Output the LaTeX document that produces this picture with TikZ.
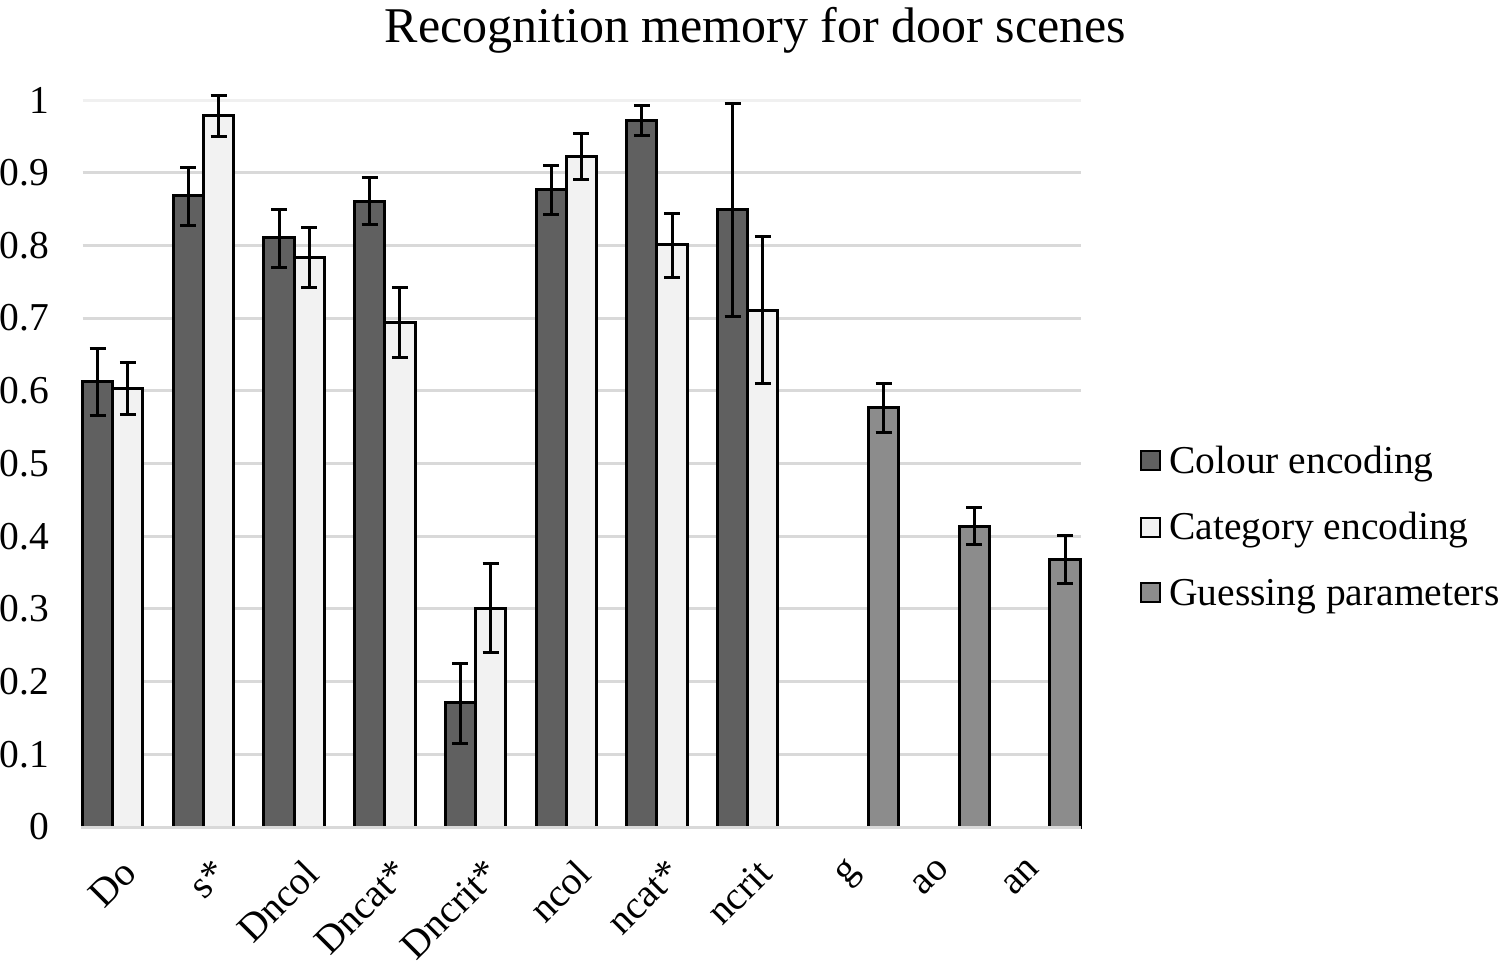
\documentclass[tikz,border=0pt]{standalone}
\usepackage{fontspec}
\setmainfont{Liberation Serif}
\definecolor{darkbar}{RGB}{96,96,96}
\definecolor{lightbar}{RGB}{242,242,242}
\definecolor{guessbar}{RGB}{140,140,140}
\definecolor{gridgray}{RGB}{217,217,217}
\definecolor{topgray}{RGB}{240,240,240}
\tikzset{
  lbl/.style={font=\fontsize{39.5}{46}\selectfont, inner sep=0pt},
  legbox/.style={draw=black, line width=2pt, minimum size=19pt, inner sep=0pt},
}
\begin{document}
\begin{tikzpicture}[x=1pt,y=-1pt]
		\useasboundingbox (0,0) rectangle (1498,962);
		% grid and tick labels
		\foreach \k/\t in {0/0,1/0.1,2/0.2,3/0.3,4/0.4,5/0.5,6/0.6,7/0.7,8/0.8,9/0.9,10/1} {
			\ifnum\k>0
				\ifnum\k<10
					\draw[gridgray, line width=3pt] (82.5,{827-72.7*\k}) -- (1081,{827-72.7*\k});
				\else
					\draw[topgray, line width=3pt] (82.5,{827-72.7*\k}) -- (1081,{827-72.7*\k});
				\fi
			\fi
			\node[lbl, anchor=east] (tick\k) at (49,{827-72.7*\k}) {\t};
		}
		% bars: category/slot/value/low/high/colour
		\foreach \i/\s/\v/\lo/\hi/\c in {
			0/0/.6125/.566/.658/darkbar, 0/1/.603/.568/.639/lightbar,
			1/0/.868/.828/.907/darkbar, 1/1/.979/.950/1.006/lightbar,
			2/0/.811/.770/.850/darkbar, 2/1/.784/.742/.825/lightbar,
			3/0/.861/.829/.893/darkbar, 3/1/.694/.646/.742/lightbar,
			4/0/.171/.1155/.225/darkbar, 4/1/.301/.240/.362/lightbar,
			5/0/.877/.843/.910/darkbar, 5/1/.922/.890/.954/lightbar,
			6/0/.972/.951/.993/darkbar, 6/1/.801/.756/.844/lightbar,
			7/0/.849/.702/.995/darkbar, 7/1/.711/.610/.812/lightbar,
			8/2/.577/.543/.610/guessbar, 9/2/.414/.389/.440/guessbar,
			10/2/.368/.335/.401/guessbar} {
			\pgfmathsetmacro{\xl}{82.5+90.7*\i+30.24*\s}
			\pgfmathsetmacro{\xm}{\xl+15.12}
			\draw[fill=\c, line width=3pt] (\xl,827) rectangle (\xl+30.24,{827-727*\v});
			\draw[line width=3pt] (\xm,{827-727*\lo}) -- (\xm,{827-727*\hi});
			\draw[line width=3pt] (\xm-8,{827-727*\lo}) -- (\xm+8,{827-727*\lo});
			\draw[line width=3pt] (\xm-8,{827-727*\hi}) -- (\xm+8,{827-727*\hi});
		}
		\draw[gridgray, line width=3pt] (81,827) -- (1081,827);
		% category labels
		\foreach \i/\t in {0/Do,1/s*,2/Dncol,3/Dncat*,4/Dncrit*,5/ncol,6/ncat*,7/ncrit,8/g,9/ao,10/an}
			\node[lbl, rotate=45, anchor=north east] (cat\i) at ({82.5+90.7*\i+38},857) {\t};
		% title
		\node[font=\fontsize{50}{60}\selectfont, anchor=base, inner sep=0pt] (title) at (755.5,42) {Recognition memory for door scenes};
		% legend
		\node[legbox, fill=darkbar] (keycol) at (1150.5,460.5) {};
		\node[legbox, fill=lightbar] (keycat) at (1150.5,527) {};
		\node[legbox, fill=guessbar] (keyguess) at (1150.5,592.5) {};
		\node[lbl, anchor=base west] (txtcol) at (1169,473) {Colour encoding};
		\node[lbl, anchor=base west] (txtcat) at (1169,539) {Category encoding};
		\node[lbl, anchor=base west] (txtguess) at (1169,605) {Guessing parameters};
		\end{tikzpicture}
\end{document}
